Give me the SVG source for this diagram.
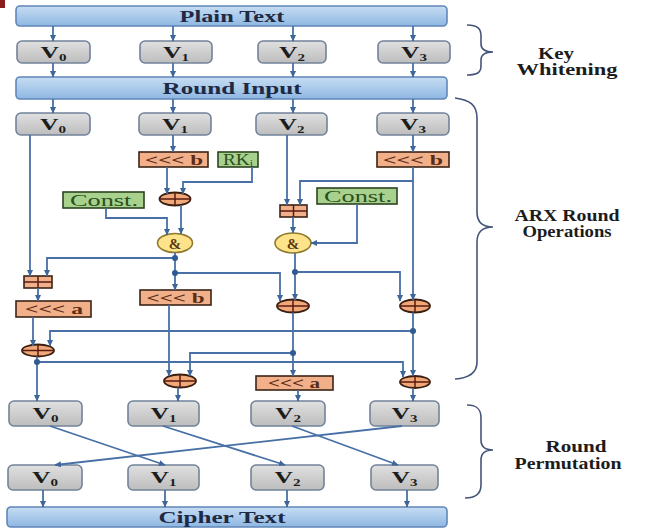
<svg xmlns="http://www.w3.org/2000/svg" width="653" height="531" viewBox="0 0 653 531">
<defs>
<linearGradient id="gBar" x1="0" y1="0" x2="0" y2="1"><stop offset="0" stop-color="#c6ddf3"/><stop offset="1" stop-color="#8fb7e2"/></linearGradient>
<linearGradient id="gV" x1="0" y1="0" x2="0" y2="1"><stop offset="0" stop-color="#e0e0e0"/><stop offset="1" stop-color="#bdbdbd"/></linearGradient>
<marker id="ar" markerUnits="userSpaceOnUse" markerWidth="7" markerHeight="7" refX="6" refY="3.5" orient="auto"><path d="M0,0.5 L6.5,3.5 L0,6.5 z" fill="#3e669a"/></marker>
<style>
.bar{fill:url(#gBar);stroke:#5f87b8;stroke-width:1.6}
.vb{fill:url(#gV);stroke:#72839a;stroke-width:1.6}
.ob{fill:#f2b08a;stroke:#3b2416;stroke-width:1.6}
.gb{fill:#a9d18e;stroke:#2c4420;stroke-width:1.6}
.xo{fill:#f0a878;stroke:#3a1e10;stroke-width:1.8}
.xl{stroke:#5a1a10;stroke-width:1.5;fill:none}
.am{fill:#ffe38a;stroke:#8f7a2c;stroke-width:1.6}
.c{fill:none;stroke:#4870a6;stroke-width:1.8}
.ca{fill:none;stroke:#4870a6;stroke-width:1.8;marker-end:url(#ar)}
.dot{fill:#2f5a92}
.br{fill:none;stroke:#45557a;stroke-width:1.6}
text{font-family:"Liberation Serif","Times New Roman",serif;text-anchor:middle}
.tb{font-size:17px;font-weight:bold;fill:#1e2944}
.tv{font-size:17px;font-weight:bold;fill:#1c1c1c}
.sub{font-size:10px}
.to{font-size:15px;font-weight:bold;fill:#5e2c14}
.tg{font-size:16px;fill:#2a5020}
.ta{font-size:15px;font-weight:bold;fill:#5a3a10}
.tr{font-size:16px;font-weight:bold;fill:#1c1c1c}
</style>
</defs>
<rect x="0" y="0" width="5" height="8" fill="#8b1c1c"/>

<g id="plain-text"><rect class="bar" x="16" y="6" width="431" height="20" rx="4"/><text class="tb" x="232" y="21.5" textLength="105" lengthAdjust="spacingAndGlyphs">Plain Text</text></g>
<g id="kw-v0"><rect class="vb" x="17" y="41" width="73" height="22" rx="5"/><text class="tv" x="53.5" y="57.5" textLength="26" lengthAdjust="spacingAndGlyphs">V<tspan class="sub" dy="3">0</tspan></text></g>
<g id="kw-v1"><rect class="vb" x="140" y="41" width="72" height="22" rx="5"/><text class="tv" x="176" y="57.5" textLength="26" lengthAdjust="spacingAndGlyphs">V<tspan class="sub" dy="3">1</tspan></text></g>
<g id="kw-v2"><rect class="vb" x="258" y="41" width="68" height="22" rx="5"/><text class="tv" x="292" y="57.5" textLength="26" lengthAdjust="spacingAndGlyphs">V<tspan class="sub" dy="3">2</tspan></text></g>
<g id="kw-v3"><rect class="vb" x="378" y="41" width="72" height="22" rx="5"/><text class="tv" x="414" y="57.5" textLength="26" lengthAdjust="spacingAndGlyphs">V<tspan class="sub" dy="3">3</tspan></text></g>
<g id="round-input"><rect class="bar" x="16" y="77" width="431" height="22" rx="4"/><text class="tb" x="232" y="94" textLength="139" lengthAdjust="spacingAndGlyphs">Round Input</text></g>

<g id="arx-v0"><rect class="vb" x="16" y="113" width="74" height="22" rx="5"/><text class="tv" x="53" y="129.5" textLength="26" lengthAdjust="spacingAndGlyphs">V<tspan class="sub" dy="3">0</tspan></text></g>
<g id="arx-v1"><rect class="vb" x="139" y="113" width="72" height="22" rx="5"/><text class="tv" x="175" y="129.5" textLength="26" lengthAdjust="spacingAndGlyphs">V<tspan class="sub" dy="3">1</tspan></text></g>
<g id="arx-v2"><rect class="vb" x="256" y="113" width="71" height="22" rx="5"/><text class="tv" x="291.5" y="129.5" textLength="26" lengthAdjust="spacingAndGlyphs">V<tspan class="sub" dy="3">2</tspan></text></g>
<g id="arx-v3"><rect class="vb" x="377" y="113" width="72" height="22" rx="5"/><text class="tv" x="413" y="129.5" textLength="26" lengthAdjust="spacingAndGlyphs">V<tspan class="sub" dy="3">3</tspan></text></g>

<g id="rot-b1"><rect class="ob" x="139" y="152" width="69" height="15"/><text class="to" x="174" y="164.5" textLength="58" lengthAdjust="spacingAndGlyphs">&lt;&lt;&lt; b</text></g>
<g id="rk"><rect class="gb" x="218" y="152" width="40" height="15"/><text class="tg" x="238" y="165" textLength="30" lengthAdjust="spacingAndGlyphs">RK<tspan class="sub" dy="2">i</tspan></text></g>
<g id="rot-b3"><rect class="ob" x="377" y="152" width="72" height="15"/><text class="to" x="413" y="164.5" textLength="60" lengthAdjust="spacingAndGlyphs">&lt;&lt;&lt; b</text></g>
<g id="xor1"><ellipse class="xo" cx="175" cy="199" rx="15.5" ry="6.5"/><path class="xl" d="M159.5,199 H190.5 M175,192.5 V205.5"/></g>
<g id="const-l"><rect class="gb" x="63" y="192" width="81" height="16"/><text class="tg" x="104" y="205.5" textLength="68" lengthAdjust="spacingAndGlyphs">Const.</text></g>
<g id="add2"><rect class="ob" x="280" y="205" width="27" height="12"/><path class="xl" d="M280,211 H307 M293.5,205 V217"/></g>
<g id="const-r"><rect class="gb" x="317" y="188" width="80" height="16"/><text class="tg" x="358" y="201.5" textLength="68" lengthAdjust="spacingAndGlyphs">Const.</text></g>
<g id="and1"><ellipse class="am" cx="175" cy="243" rx="17.5" ry="9.5"/><text class="ta" x="175" y="248.5">&amp;</text></g>
<g id="and2"><ellipse class="am" cx="293" cy="243" rx="18" ry="10"/><text class="ta" x="293" y="248.5">&amp;</text></g>
<g id="add0"><rect class="ob" x="24" y="276" width="28" height="12"/><path class="xl" d="M24,282 H52 M38,276 V288"/></g>
<g id="rot-b2"><rect class="ob" x="140" y="290" width="71" height="15"/><text class="to" x="175.5" y="302.5" textLength="58" lengthAdjust="spacingAndGlyphs">&lt;&lt;&lt; b</text></g>
<g id="rot-a0"><rect class="ob" x="16" y="301" width="75" height="16"/><text class="to" x="54" y="314" textLength="58" lengthAdjust="spacingAndGlyphs">&lt;&lt;&lt; a</text></g>
<g id="xor2"><ellipse class="xo" cx="293" cy="306" rx="16" ry="6.5"/><path class="xl" d="M277,306 H309 M293,299.5 V312.5"/></g>
<g id="xor3"><ellipse class="xo" cx="415" cy="306" rx="15" ry="6.5"/><path class="xl" d="M400,306 H430 M415,299.5 V312.5"/></g>
<g id="xor0"><ellipse class="xo" cx="38" cy="350.5" rx="16" ry="6"/><path class="xl" d="M22,350.5 H54 M38,344.5 V356.5"/></g>
<g id="xor1b"><ellipse class="xo" cx="180" cy="381" rx="16" ry="6.5"/><path class="xl" d="M164,381 H196 M180,374.5 V387.5"/></g>
<g id="rot-a2"><rect class="ob" x="256" y="376" width="77" height="14"/><text class="to" x="294" y="387.5" textLength="52" lengthAdjust="spacingAndGlyphs">&lt;&lt;&lt; a</text></g>
<g id="xor3b"><ellipse class="xo" cx="415" cy="382" rx="15" ry="6"/><path class="xl" d="M400,382 H430 M415,376 V388"/></g>

<g id="out-v0"><rect class="vb" x="9" y="401" width="73" height="25" rx="5"/><text class="tv" x="45.5" y="418.5" textLength="26" lengthAdjust="spacingAndGlyphs">V<tspan class="sub" dy="3">0</tspan></text></g>
<g id="out-v1"><rect class="vb" x="128" y="401" width="71" height="25" rx="5"/><text class="tv" x="163.5" y="418.5" textLength="26" lengthAdjust="spacingAndGlyphs">V<tspan class="sub" dy="3">1</tspan></text></g>
<g id="out-v2"><rect class="vb" x="251" y="401" width="74" height="25" rx="5"/><text class="tv" x="288" y="418.5" textLength="26" lengthAdjust="spacingAndGlyphs">V<tspan class="sub" dy="3">2</tspan></text></g>
<g id="out-v3"><rect class="vb" x="370" y="401" width="69" height="25" rx="5"/><text class="tv" x="404.5" y="418.5" textLength="26" lengthAdjust="spacingAndGlyphs">V<tspan class="sub" dy="3">3</tspan></text></g>

<g id="perm-v0"><rect class="vb" x="8" y="465" width="74" height="25" rx="5"/><text class="tv" x="45" y="482.5" textLength="26" lengthAdjust="spacingAndGlyphs">V<tspan class="sub" dy="3">0</tspan></text></g>
<g id="perm-v1"><rect class="vb" x="128" y="465" width="71" height="25" rx="5"/><text class="tv" x="163.5" y="482.5" textLength="26" lengthAdjust="spacingAndGlyphs">V<tspan class="sub" dy="3">1</tspan></text></g>
<g id="perm-v2"><rect class="vb" x="251" y="465" width="73" height="25" rx="5"/><text class="tv" x="287.5" y="482.5" textLength="26" lengthAdjust="spacingAndGlyphs">V<tspan class="sub" dy="3">2</tspan></text></g>
<g id="perm-v3"><rect class="vb" x="371" y="465" width="67" height="25" rx="5"/><text class="tv" x="404.5" y="482.5" textLength="26" lengthAdjust="spacingAndGlyphs">V<tspan class="sub" dy="3">3</tspan></text></g>
<g id="cipher-text"><rect class="bar" x="7" y="507" width="440" height="20" rx="4"/><text class="tb" x="222" y="523" textLength="127" lengthAdjust="spacingAndGlyphs">Cipher Text</text></g>

<g id="connectors">
<path class="ca" d="M53,26 V41"/><path class="ca" d="M173,26 V41"/><path class="ca" d="M293,26 V41"/><path class="ca" d="M413,26 V41"/>
<path class="ca" d="M53,63 V77"/><path class="ca" d="M173,63 V77"/><path class="ca" d="M293,63 V77"/><path class="ca" d="M413,63 V77"/>
<path class="ca" d="M53,99 V113"/><path class="ca" d="M173,99 V113"/><path class="ca" d="M293,99 V113"/><path class="ca" d="M413,99 V113"/>
<path class="ca" d="M30,135 V276"/>
<path class="ca" d="M173,135 V152"/>
<path class="ca" d="M167,167 V194"/>
<path class="ca" d="M252,167 V182 H183 V194"/>
<path class="ca" d="M181,205 V234"/>
<path class="ca" d="M106,208 V218 H167 V235"/>
<path class="ca" d="M175,252.5 V290"/>
<path class="ca" d="M175,258 H47 V276"/>
<path class="ca" d="M175,273 H280 V301"/>
<path class="ca" d="M38,288 V301"/>
<path class="ca" d="M33,317 V346"/>
<path class="ca" d="M413,331 H50 V346"/>
<path class="ca" d="M37,356.5 V401"/>
<path class="ca" d="M37,362 H403 V377"/>
<path class="ca" d="M169,305 V376"/>
<path class="ca" d="M293,353 H190 V376"/>
<path class="ca" d="M178,387.5 V401"/>
<path class="ca" d="M287,135 V205"/>
<path class="ca" d="M413,181 H300 V205"/>
<path class="ca" d="M293,217 V233"/>
<path class="ca" d="M357,204 V243 H311"/>
<path class="ca" d="M295,253 V300"/>
<path class="ca" d="M295,272 H400 V301"/>
<path class="ca" d="M293,312.5 V376"/>
<path class="ca" d="M298,390 V401"/>
<path class="ca" d="M413,135 V152"/>
<path class="ca" d="M413,167 V300"/>
<path class="ca" d="M413,312.5 V376"/>
<path class="ca" d="M413,388 V401"/>
<circle class="dot" cx="175" cy="258" r="3"/><circle class="dot" cx="175" cy="273" r="3"/>
<circle class="dot" cx="295" cy="272" r="3"/><circle class="dot" cx="413" cy="331" r="3"/>
<circle class="dot" cx="293" cy="353" r="3"/><circle class="dot" cx="37" cy="362" r="3"/>
<path class="ca" d="M50,426 L165,465"/>
<path class="ca" d="M163,426 L285,465"/>
<path class="ca" d="M292,426 L398,465"/>
<path class="ca" d="M402,426 L55,465"/>
<path class="ca" d="M43,490 V507"/><path class="ca" d="M165,490 V507"/><path class="ca" d="M287,490 V507"/><path class="ca" d="M407,490 V507"/>
</g>

<g id="brace-kw"><path class="br" d="M467,25 C478,25 481,29 481,36 L481,44 C481,49 485,52 493,52 C485,52 481,55 481,60 L481,66 C481,72 478,75 467,75"/>
<text class="tr" x="556" y="59" textLength="36" lengthAdjust="spacingAndGlyphs">Key</text>
<text class="tr" x="567" y="75" textLength="101" lengthAdjust="spacingAndGlyphs">Whitening</text></g>
<g id="brace-arx"><path class="br" d="M455,98 C470,100 477,105 477,118 L477,212 C477,222 483,227 493,227 C483,227 477,232 477,242 L477,362 C477,372 470,378 455,379"/>
<text class="tr" x="567" y="221" textLength="105" lengthAdjust="spacingAndGlyphs">ARX Round</text>
<text class="tr" x="567" y="237" textLength="89" lengthAdjust="spacingAndGlyphs">Operations</text></g>
<g id="brace-perm"><path class="br" d="M467,405 C478,405 481,410 481,418 L481,440 C481,446 485,450 493,450 C485,450 481,454 481,460 L481,485 C481,493 477,498 465,498"/>
<text class="tr" x="576" y="452" textLength="61" lengthAdjust="spacingAndGlyphs">Round</text>
<text class="tr" x="568" y="469" textLength="107" lengthAdjust="spacingAndGlyphs">Permutation</text></g>
</svg>
